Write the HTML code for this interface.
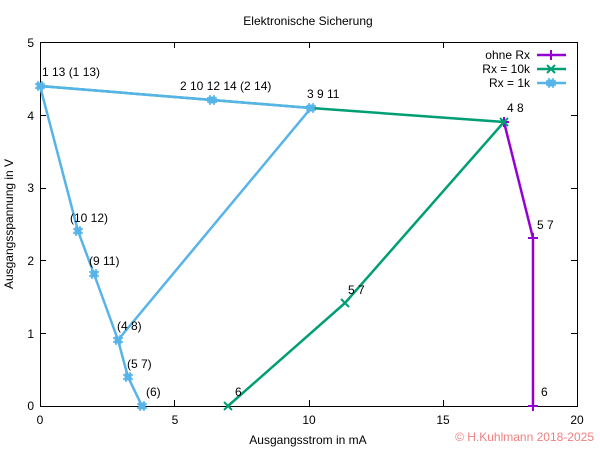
<!DOCTYPE html>
<html><head><meta charset="utf-8"><style>
html,body{margin:0;padding:0;background:#fff;}
svg{display:block;font-family:"Liberation Sans",sans-serif;}
</style></head><body>
<svg width="600" height="450" viewBox="0 0 600 450" xmlns="http://www.w3.org/2000/svg">
<defs>
<g id="sq"><rect x="-3.5" y="-3.5" width="7" height="7" fill="#56b4e9"/><path d="M-5 -2H5M-5 2H5M-2 -5V5M2 -5V5" stroke="#56b4e9" stroke-width="1.5"/></g>
<g id="xx"><path d="M-4 -4L4 4M-4 4L4 -4" stroke="#009e73" stroke-width="2"/></g>
<g id="pl"><path d="M-5 0H5M0 -5V5" stroke="#9400d3" stroke-width="2"/></g>
</defs>
<text x="308" y="25" font-size="12" text-anchor="middle" fill="#000">Elektronische Sicherung</text>
<!-- frame -->
<rect x="40.5" y="42.5" width="537" height="364" fill="none" stroke="#000" stroke-width="1"/>
<g stroke="#000" stroke-width="1">
<path d="M40 333.5h6M40 260.5h6M40 188.5h6M40 115.5h6M577 333.5h-6M577 260.5h-6M577 188.5h-6M577 115.5h-6"/>
<path d="M174.5 406v-6M309.5 406v-6M443.5 406v-6M174.5 42v6M309.5 42v6M443.5 42v6"/>
</g>
<g font-size="12" fill="#000" text-anchor="end">
<text x="34" y="410">0</text><text x="34" y="338">1</text><text x="34" y="265">2</text>
<text x="34" y="192">3</text><text x="34" y="120">4</text><text x="34" y="47">5</text>
</g>
<g font-size="12" fill="#000" text-anchor="middle">
<text x="40" y="424">0</text><text x="175" y="424">5</text><text x="309" y="424">10</text>
<text x="443" y="424">15</text><text x="577" y="424">20</text>
</g>
<text x="308" y="444" font-size="12" text-anchor="middle">Ausgangsstrom in mA</text>
<text transform="translate(13,224) rotate(-90)" font-size="12" text-anchor="middle">Ausgangsspannung in V</text>
<text x="594" y="441" font-size="12" text-anchor="end" fill="#f08080">© H.Kuhlmann 2018-2025</text>
<!-- series -->
<polyline points="504,122 533,238 533,406" fill="none" stroke="#9400d3" stroke-width="2.5"/>
<use href="#pl" x="504" y="122"/><use href="#pl" x="533" y="238"/><use href="#pl" x="533" y="406"/>
<polyline points="228,406 345,303 504,122 311,108" fill="none" stroke="#009e73" stroke-width="2.5"/>
<use href="#xx" x="228" y="406"/><use href="#xx" x="345" y="303"/><use href="#xx" x="504" y="122"/>
<polyline points="311,108 212,100 40,86" fill="none" stroke="#009e73" stroke-width="2.5"/>
<polyline points="40,86 212,100 311,108 118,340" fill="none" stroke="#56b4e9" stroke-width="2.5"/>
<polyline points="40,86 78,231 94,274 118,340 128,377 142,406" fill="none" stroke="#56b4e9" stroke-width="2.5"/>
<use href="#sq" x="40" y="86"/><use href="#sq" x="212" y="100"/><use href="#sq" x="311" y="108"/>
<use href="#sq" x="78" y="231"/><use href="#sq" x="94" y="274"/><use href="#sq" x="118" y="340"/>
<use href="#sq" x="128" y="377"/><use href="#sq" x="142" y="406"/>
<!-- labels -->
<g font-size="12" fill="#000">
<text x="42" y="76">1 13 (1 13)</text>
<text x="180" y="90">2 10 12 14 (2 14)</text>
<text x="307" y="98">3 9 11</text>
<text x="507" y="112">4 8</text>
<text x="537" y="229">5 7</text>
<text x="348" y="294">5 7</text>
<text x="235" y="396">6</text>
<text x="541" y="396">6</text>
<text x="70" y="222">(10 12)</text>
<text x="89" y="265">(9 11)</text>
<text x="117" y="330">(4 8)</text>
<text x="127" y="368">(5 7)</text>
<text x="146" y="396">(6)</text>
</g>
<!-- legend -->
<g font-size="12" fill="#000" text-anchor="end">
<text x="530" y="59">ohne Rx</text>
<text x="530" y="73">Rx = 10k</text>
<text x="530" y="87">Rx = 1k</text>
</g>
<line x1="537" y1="55" x2="566" y2="55" stroke="#9400d3" stroke-width="2.5"/><use href="#pl" x="551" y="55"/>
<line x1="537" y1="69" x2="566" y2="69" stroke="#009e73" stroke-width="2.5"/><use href="#xx" x="551" y="69"/>
<line x1="537" y1="83" x2="566" y2="83" stroke="#56b4e9" stroke-width="2.5"/><use href="#sq" x="551" y="83"/>
</svg>
</body></html>
